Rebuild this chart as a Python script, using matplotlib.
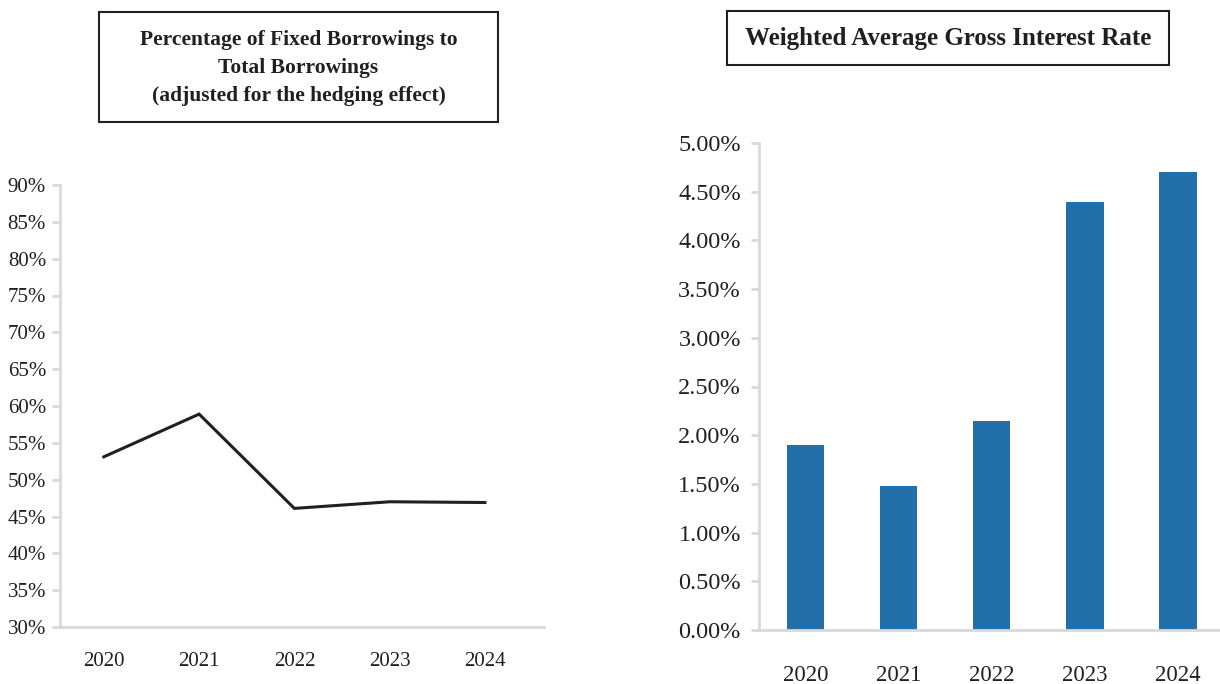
import numpy as np
import matplotlib.pyplot as plt
from matplotlib.patches import Rectangle
from matplotlib.ticker import FuncFormatter

plt.rcParams['font.family'] = ['Liberation Serif', 'DejaVu Serif']

years = ["2020", "2021", "2022", "2023", "2024"]
fixed_pct = [53.1, 58.9, 46.1, 47.0, 46.9]
interest_rate = [1.90, 1.48, 2.15, 4.39, 4.70]

left_title = "Percentage of Fixed Borrowings to\nTotal Borrowings\n(adjusted for the hedging effect)"
right_title = "Weighted Average Gross Interest Rate"

W, H = 1220, 684
fig = plt.figure(figsize=(W / 100, H / 100), dpi=100)

spine_col = "#d9d9d9"
text_col = "#231f20"


def px_axes(x0, y0, x1, y1):
    # pixel box (top-left origin) -> figure fraction
    return fig.add_axes([x0 / W, 1 - y1 / H, (x1 - x0) / W, (y1 - y0) / H])


def style(ax):
    for s in ["top", "right"]:
        ax.spines[s].set_visible(False)
    for s in ["left", "bottom"]:
        ax.spines[s].set_color(spine_col)
        ax.spines[s].set_linewidth(2)
    ax.tick_params(axis="y", direction="out", length=6, width=2, color=spine_col,
                   labelcolor=text_col, pad=4)
    ax.tick_params(axis="x", length=0, labelcolor=text_col)


# left: line chart
ax1 = px_axes(60, 185, 544, 627)
x = np.arange(len(years))
ax1.plot(x, fixed_pct, color=text_col, lw=2.2, solid_joinstyle="miter")
ax1.set_ylim(30, 90)
ax1.set_yticks(np.arange(30, 91, 5))
ax1.yaxis.set_major_formatter(FuncFormatter(lambda v, p: f"{v:.0f}%"))
ax1.set_xlim(-0.46, 4.62)
ax1.set_xticks(x)
ax1.set_xticklabels(years)
style(ax1)
ax1.tick_params(axis="y", labelsize=15)
ax1.tick_params(axis="x", labelsize=15, pad=18)

# right: bar chart
ax2 = px_axes(759, 143, 1220, 630)
ax2.bar(x, interest_rate, width=0.4, color="#236fa9")
ax2.set_ylim(0, 5)
ax2.set_yticks(np.arange(0, 5.01, 0.5))
ax2.yaxis.set_major_formatter(FuncFormatter(lambda v, p: f"{v:.2f}%"))
ax2.set_xlim(-0.5, 4.45)
ax2.set_xticks(x)
ax2.set_xticklabels(years)
style(ax2)
ax2.tick_params(axis="y", labelsize=17.5, pad=7)
ax2.tick_params(axis="x", labelsize=16.5, pad=25)

# title boxes
for (x0, y0, x1, y1), txt, fs in [((99, 12, 498, 122), left_title, 15.5),
                                   ((727, 11, 1169, 65), right_title, 18)]:
    fig.patches.append(Rectangle((x0 / W, 1 - y1 / H), (x1 - x0) / W, (y1 - y0) / H,
                                 transform=fig.transFigure, fill=False,
                                 edgecolor=text_col, lw=1.5))
    fig.text((x0 + x1) / 2 / W, 1 - (y0 + y1 + 2) / 2 / H, txt, ha="center", va="center",
             fontsize=fs, fontweight="bold", color=text_col, linespacing=1.5)

fig.savefig("out.png", dpi=100)
